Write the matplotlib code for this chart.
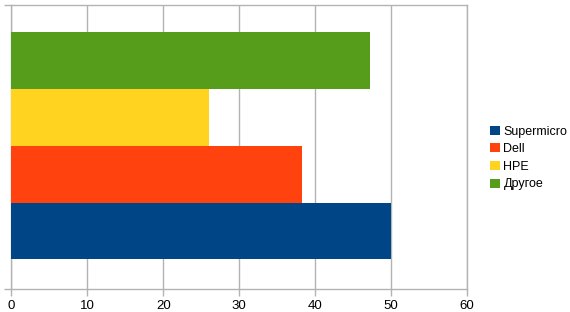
import matplotlib
matplotlib.use("Agg")
import matplotlib.pyplot as plt
from matplotlib.patches import Patch

series = ["Supermicro", "Dell", "HPE", "Другое"]
values = [50.0, 38.3, 26.0, 47.2]
colors = ["#004586", "#ff420e", "#ffd320", "#579d1c"]
xticks = [0, 10, 20, 30, 40, 50, 60]

plt.rcParams['font.family'] = ['Liberation Sans', 'DejaVu Sans']

fig = plt.figure(figsize=(5.7, 3.12), dpi=100)
ax = fig.add_axes([11.3/570, (312-289)/312, (467-11.3)/570, (289-5)/312])

for i, (s, v, c) in enumerate(zip(series, values, colors)):
    ax.barh(i, v, height=1.0, color=c, zorder=3)

grid_c = "#b3b3b3"
ax.set_xlim(0, 60)
ax.set_ylim(-1.02, 3.98)
ax.set_xticks(xticks)
ax.set_xticklabels([str(t) for t in xticks], fontsize=9.5)
ax.set_yticks([-1.02, 3.98])
ax.set_yticklabels([])
ax.tick_params(axis='both', length=5, width=1, color=grid_c, pad=3)
ax.xaxis.grid(True, color=grid_c, linewidth=1, zorder=0)
for sp in ax.spines.values():
    sp.set_color(grid_c)
    sp.set_linewidth(1)

handles = [Patch(facecolor=c, edgecolor='none') for c in colors]
fig.legend(handles, series, loc='center left', bbox_to_anchor=(484/570, 1 - 158/312),
           frameon=False, fontsize=9, handlelength=0.75, handleheight=0.75,
           handletextpad=0.3, labelspacing=0.45, borderpad=0)

fig.savefig("out.png", dpi=100)
